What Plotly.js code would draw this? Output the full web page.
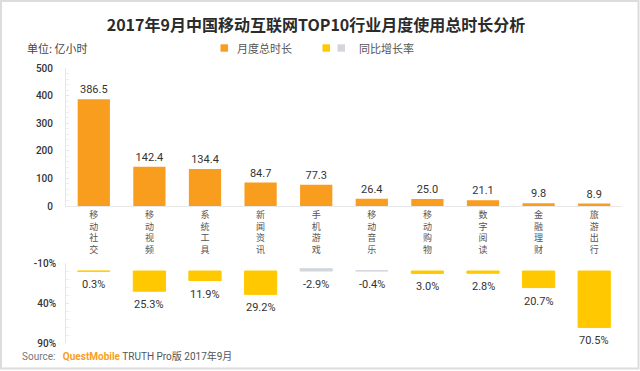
<!DOCTYPE html>
<html>
<head>
<meta charset="utf-8">
<script src="https://cdn.plot.ly/plotly-3.0.1.min.js"></script>
<style>
html,body{margin:0;padding:0;background:#fff;}
#chart{width:640px;height:371px;}
</style>
</head>
<body>
<div id="chart"></div>
<script>
// ---- data ----
var categories = ["移动社交","移动视频","系统工具","新闻资讯","手机游戏","移动音乐","移动购物","数字阅读","金融理财","旅游出行"];
var hours = [386.5, 142.4, 134.4, 84.7, 77.3, 26.4, 25.0, 21.1, 9.8, 8.9];
var growth = [0.3, 25.3, 11.9, 29.2, -2.9, -0.4, 3.0, 2.8, 20.7, 70.5];
var hourTicks = [0, 100, 200, 300, 400, 500];
var growthTicks = [-10, 40, 90];
var growthTickText = ["-10%", "40%", "90%"];

// ---- styles ----
var ORANGE = '#F99D1E', YELLOW = '#FFC800', GRAY = '#D3D6DC';
var FONT = 'Roboto, "Noto Sans CJK SC", sans-serif';
var CJK = '"Noto Sans CJK SC", "Noto Sans", sans-serif';
var W = 640, H = 371;
function px(x){return x / W;}
function py(y){return 1 - y / H;}

var vertLabels = categories.map(function(c){ return c.split('').join('<br>'); });

var traces = [
  {
    type: 'bar', x: categories, y: hours, xaxis: 'x', yaxis: 'y',
    name: '月度总时长', showlegend: false,
    marker: {color: ORANGE},
    text: hours.map(function(v){ return v.toFixed(1); }),
    textposition: 'outside', cliponaxis: false,
    textfont: {family: FONT, size: 11, color: '#333'},
    hoverinfo: 'x+y'
  },
  {
    type: 'bar', x: categories, y: growth, xaxis: 'x2', yaxis: 'y2',
    name: '同比增长率', showlegend: false,
    marker: {color: growth.map(function(v){ return v >= 0 ? YELLOW : GRAY; }),
             line: {color: growth.map(function(v){ return v >= 0 ? YELLOW : GRAY; }), width: 1}},
    textposition: 'none', hoverinfo: 'x+y'
  }
];

var growthLabels = categories.map(function(c, i){
  return {
    text: growth[i].toFixed(1) + '%', xref: 'x2', yref: 'y2',
    x: c, y: Math.max(growth[i], 0), xanchor: 'center', yanchor: 'top',
    yshift: -5, showarrow: false,
    font: {family: FONT, size: 11, color: '#333'}
  };
});

var axisCommon = {
  showline: true, linecolor: '#e6e6e6', linewidth: 1,
  showgrid: false, zeroline: false,
  ticks: 'inside', ticklen: 3, tickcolor: '#e6e6e6',
  tickfont: {family: FONT, size: 10, color: '#333', weight: 500}
};

var layout = {
  width: W, height: H,
  margin: {l: 0, r: 0, t: 0, b: 0},
  paper_bgcolor: '#fff', plot_bgcolor: '#fff',
  showlegend: false,
  bargap: 0.42,
  title: {
    text: '<b>2017年9月中国移动互联网TOP10行业月度使用总时长分析</b>',
    x: px(316), xanchor: 'center', xref: 'paper',
    y: py(25), yanchor: 'middle', yref: 'paper',
    font: {family: CJK, size: 16, color: '#2b2b2b'}
  },
  xaxis: {
    domain: [px(66), px(622)], anchor: 'y', type: 'category',
    showline: true, linecolor: '#e8e8e8', showgrid: false, zeroline: false,
    ticks: '', tickvals: categories, ticktext: vertLabels,
    tickfont: {family: CJK, size: 9, color: '#555'}, tickangle: 0
  },
  yaxis: Object.assign({}, axisCommon, {
    domain: [py(206), py(68)], anchor: 'x',
    range: [0, 500], tickmode: 'array', tickvals: hourTicks, ticklabelstandoff: 10,
    minor: {dtick: 20, ticks: 'inside', ticklen: 3, tickcolor: '#eeeeee'}
  }),
  xaxis2: {
    domain: [px(66), px(622)], anchor: 'y2', type: 'category', matches: 'x',
    showline: false, showgrid: false, zeroline: false, ticks: '', showticklabels: false
  },
  yaxis2: Object.assign({}, axisCommon, {
    domain: [py(343), py(263)], anchor: 'x2',
    range: [90, -10], tickmode: 'array', tickvals: growthTicks, ticktext: growthTickText,
    ticklabelstandoff: 7,
    minor: {dtick: 10, ticks: 'inside', ticklen: 3, tickcolor: '#eeeeee'}
  }),
  shapes: [
    {type: 'rect', xref: 'paper', yref: 'paper', x0: px(1), x1: px(638.5), y0: py(368.5), y1: py(1),
     line: {color: '#dcdcdc', width: 2}, fillcolor: 'rgba(0,0,0,0)'},
    {type: 'rect', xref: 'paper', yref: 'paper', x0: px(220.5), x1: px(228), y0: py(51.7), y1: py(44.3),
     line: {width: 0}, fillcolor: ORANGE},
    {type: 'rect', xref: 'paper', yref: 'paper', x0: px(322.5), x1: px(330), y0: py(51.7), y1: py(44.3),
     line: {width: 0}, fillcolor: YELLOW},
    {type: 'rect', xref: 'paper', yref: 'paper', x0: px(337.5), x1: px(345), y0: py(51.7), y1: py(44.3),
     line: {width: 0}, fillcolor: GRAY}
  ],
  annotations: [
    {text: '单位: 亿小时', xref: 'paper', yref: 'paper', x: px(25), y: py(48),
     xanchor: 'left', yanchor: 'middle', showarrow: false,
     font: {family: CJK, size: 11, color: '#444'}},
    {text: '月度总时长', xref: 'paper', yref: 'paper', x: px(235), y: py(48),
     xanchor: 'left', yanchor: 'middle', showarrow: false,
     font: {family: CJK, size: 11, color: '#555'}},
    {text: '同比增长率', xref: 'paper', yref: 'paper', x: px(357), y: py(48),
     xanchor: 'left', yanchor: 'middle', showarrow: false,
     font: {family: CJK, size: 11, color: '#555'}},
    {text: 'Source:&nbsp;&nbsp; <b><span style="color:#F7A024">QuestMobile</span></b> <span style="color:#555">TRUTH Pro版 2017年9月</span>',
     xref: 'paper', yref: 'paper', x: px(20), y: py(356),
     xanchor: 'left', yanchor: 'middle', showarrow: false,
     font: {family: FONT, size: 10, color: '#777'}}
  ].concat(growthLabels)
};

Plotly.newPlot('chart', traces, layout, {displayModeBar: false, staticPlot: true});
</script>
</body>
</html>
